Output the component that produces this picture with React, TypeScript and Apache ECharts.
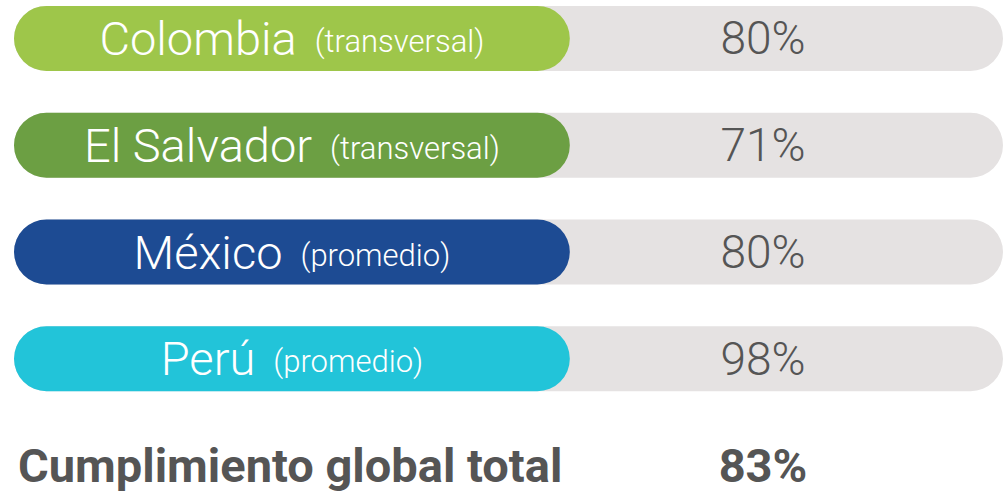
import React, { useEffect, useRef } from "react";
import * as echarts from "echarts";

const categories = ["Colombia", "El Salvador", "México", "Perú", "Cumplimiento global total"];
const notes = ["(transversal)", "(transversal)", "(promedio)", "(promedio)", ""];
const percentages = [80, 71, 80, 98, 83];
const pillColors = ["#9EC64A", "#6C9F43", "#1D4B93", "#22C4D9"];
const trackValues = [100, 100, 100, 100, 100];
const pillValues = [56.2, 56.2, 56.2, 56.2, 56.2];

export default function App() {
  const ref = useRef<HTMLDivElement>(null);
  useEffect(() => {
    if (!ref.current) return;
    const chart = echarts.init(ref.current, null, { renderer: "svg" });
    const last = categories.length - 1;
    chart.setOption({
      animation: false,
      grid: { left: 14, right: 1, top: 0, bottom: 0 },
      xAxis: { type: "value", min: 0, max: 100, show: false },
      yAxis: { type: "category", data: categories, inverse: true, show: false },
      series: [
        {
          type: "bar",
          barWidth: 65,
          barGap: "-100%",
          silent: true,
          data: trackValues.map((v, i) => ({
            value: v,
            itemStyle: {
              color: i === last ? "transparent" : "#E5E2E2",
              borderRadius: 32.5,
            },
            label: {
              show: true,
              position: [749, "50%"],
              align: "center",
              verticalAlign: "middle",
              formatter: () => percentages[i] + "%",
              color: "#555555",
              fontFamily: "Roboto",
              fontWeight: i === last ? 700 : 300,
              fontSize: i === last ? 47 : 46,
            },
          })),
        },
        {
          type: "bar",
          barWidth: 65,
          barGap: "-100%",
          silent: true,
          data: pillValues.map((v, i) => ({
            value: v,
            itemStyle: {
              color: i === last ? "transparent" : pillColors[i],
              borderRadius: 32.5,
            },
            label:
              i === last
                ? {
                    show: true,
                    position: [4, "50%"],
                    align: "left",
                    verticalAlign: "middle",
                    formatter: () => categories[i],
                    color: "#555555",
                    fontFamily: "Roboto",
                    fontWeight: 700,
                    fontSize: 47,
                  }
                : {
                    show: true,
                    position: "inside",
                    formatter: () => `{n|${categories[i]}}{s|${notes[i]}}`,
                    rich: {
                      n: { color: "#ffffff", fontFamily: "Roboto", fontWeight: 300, fontSize: 47 },
                      s: {
                        color: "#ffffff",
                        fontFamily: "Roboto",
                        fontWeight: 300,
                        fontSize: 31,
                        padding: [6, 0, 0, 18],
                      },
                    },
                  },
          })),
        },
      ],
    });
    return () => chart.dispose();
  }, []);
  return (
    <div
      ref={ref}
      style={{ position: "fixed", left: 0, top: -15, width: 1004, height: 534, background: "#ffffff" }}
    />
  );
}
